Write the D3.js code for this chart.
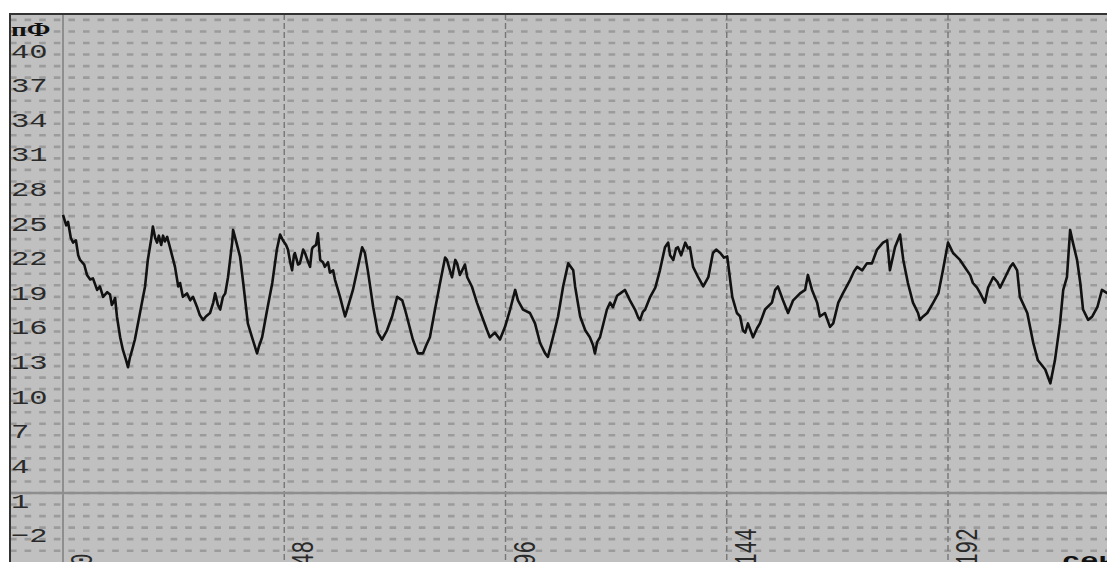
<!DOCTYPE html>
<html>
<head>
<meta charset="utf-8">
<script src="https://cdn.jsdelivr.net/npm/d3@7.9.0/dist/d3.min.js"></script>
<style>
  body { margin: 0; background: #fff; }
  svg { display: block; }
</style>
</head>
<body>
<svg id="chart" width="1107" height="562"></svg>
<script>
// seconds and picofarads
const times = [0,0.7,1.1,1.7,2.2,2.8,3.3,3.7,4.6,5.2,5.9,6.5,7.4,8.0,8.7,9.6,10.2,10.6,10.9,11.3,11.7,12.4,13.0,13.7,14.1,14.5,15.0,15.6,16.7,17.8,18.4,19.1,19.3,19.5,20.0,20.4,20.8,21.3,21.7,22.1,22.6,23.2,24.3,25.0,25.4,26.0,26.9,27.6,28.2,29.1,29.7,30.4,31.0,31.9,32.6,33.0,33.6,34.1,34.7,35.2,35.8,36.7,36.9,37.5,38.4,39.1,40.1,41.0,42.1,42.5,43.2,44.3,45.4,46.4,47.1,47.7,48.4,48.8,49.3,49.7,50.1,50.3,51.0,51.4,52.1,52.5,53.2,53.6,54.0,54.2,54.9,55.3,55.8,56.4,56.8,57.5,57.9,58.6,59.0,60.1,60.8,61.2,61.8,62.9,64.0,64.9,65.5,66.2,67.3,68.3,69.2,70.3,71.4,72.5,73.6,74.2,74.6,75.9,77.0,78.1,78.8,79.6,80.7,81.8,82.5,82.9,83.3,84.0,84.4,85.1,85.5,86.1,86.6,87.2,87.7,88.7,89.8,90.9,92.0,92.6,93.7,94.8,95.9,97.0,98.1,98.7,99.8,101.3,102.4,103.5,104.6,105.2,106.3,107.4,108.5,109.6,110.7,111.1,112.2,113.3,114.3,115.0,115.4,115.9,116.5,118.0,118.7,119.3,120.2,120.9,121.9,123.0,124.1,124.8,125.2,125.8,126.3,127.4,128.5,129.5,130.6,131.3,131.7,132.4,133.0,133.4,134.1,135.0,135.6,136.0,136.7,137.8,138.9,140.0,141.0,141.7,142.6,143.4,144.1,145.2,146.2,146.9,147.5,148.0,148.6,149.7,150.6,151.2,152.3,153.8,154.5,155.1,156.2,157.3,158.4,159.9,161.0,161.6,162.5,163.6,164.2,165.3,166.4,167.1,168.2,169.2,170.8,171.6,172.3,173.4,174.4,175.5,176.6,177.9,178.8,179.4,180.5,181.6,182.3,183.3,184.4,185.5,185.9,186.6,187.5,188.8,189.9,190.9,192.0,193.1,194.6,196.1,196.8,197.4,198.3,199.0,200.0,200.7,201.8,202.7,203.3,204.4,205.5,206.1,207.0,207.6,209.2,210.5,211.5,213.1,214.2,215.2,216.3,217.0,217.8,218.5,219.1,220.0,220.7,221.3,222.4,223.3,224.4,225.4,226.6];
const values = [25.1,24.2,24.5,23.1,22.7,22.9,21.6,21.2,20.8,19.9,19.5,19.6,18.6,18.9,18.0,18.4,18.2,17.3,17.5,17.9,16.3,14.5,13.4,12.5,11.9,12.7,13.4,14.3,16.6,18.9,21.2,22.9,23.5,24.1,23.1,22.7,23.3,22.5,23.3,22.8,23.2,22.3,20.6,18.9,19.2,18.0,18.3,17.7,18.0,17.1,16.4,16.0,16.3,16.6,17.5,18.3,17.3,16.9,18.0,18.3,19.7,22.7,23.8,22.9,21.5,19.2,15.7,14.5,13.1,13.7,14.5,16.9,19.2,22.1,23.4,22.9,22.5,22.1,21.0,20.3,21.6,21.8,20.8,20.9,22.1,21.8,21.0,20.6,22.1,22.3,22.5,23.5,21.2,21.0,20.6,21.0,20.1,20.3,19.5,18.0,16.9,16.3,17.1,18.6,20.6,22.3,21.8,20.1,17.1,14.9,14.3,15.1,16.3,18.0,17.7,16.9,16.3,14.3,13.1,13.1,13.8,14.5,16.9,19.2,20.6,21.4,21.2,20.2,19.7,21.2,20.9,19.9,20.3,20.8,19.7,18.9,17.5,16.3,15.1,14.5,14.9,14.3,15.4,16.9,18.6,17.7,16.9,16.6,15.7,14.0,13.1,12.8,14.5,16.3,18.9,20.9,20.3,18.9,16.3,15.1,14.5,13.8,13.1,14.1,14.5,16.9,17.5,17.1,18.1,18.3,18.6,17.7,16.9,16.2,16.0,16.7,16.9,18.0,18.8,20.3,22.3,22.7,21.6,21.2,22.2,22.3,21.6,22.7,22.2,22.3,20.6,19.7,18.9,19.7,21.8,22.1,21.8,21.4,21.5,18.0,16.6,16.3,15.1,14.9,15.7,14.5,15.3,15.7,16.9,17.5,18.6,18.9,17.7,16.6,17.7,18.3,18.6,19.9,18.6,17.5,16.3,16.6,15.4,15.7,17.5,18.3,19.5,20.2,20.6,20.3,20.9,20.9,22.1,22.7,22.9,20.3,22.3,23.4,21.2,19.2,17.5,16.6,16.0,16.3,16.6,17.5,18.3,20.3,22.7,21.8,21.2,20.3,19.9,19.2,18.8,18.3,17.5,18.8,19.7,19.3,18.8,19.7,20.6,20.9,20.3,18.0,16.6,14.0,12.5,11.7,10.5,12.5,15.7,18.6,19.7,23.8,22.7,21.2,19.2,16.9,16.0,16.3,17.1,18.6,18.3];

const yTicks = [40, 37, 34, 31, 28, 25, 22, 19, 16, 13, 10, 7, 4, 1, -2];
const xTicks = [0, 48, 96, 144, 192];
const yUnit = "пФ";
const xUnit = "сек";

const W = 1107, H = 562;
const padLeft = 10, padTop = 14;

const x = d3.scaleLinear().domain([0, 192]).range([63, 948]);
const y = d3.scaleLinear().domain([1, 40]).range([493, 43]);

const svg = d3.select("#chart");

// plot background
svg.append("rect")
  .attr("x", padLeft).attr("y", padTop)
  .attr("width", W - padLeft).attr("height", H - padTop)
  .attr("fill", "#c0c0c0");

// dotted rows, one per unit
const rows = d3.range(-5, 43).filter(v => y(v) > padTop + 2 && y(v) < H);
svg.append("g").selectAll("line").data(rows).join("line")
  .attr("x1", padLeft).attr("x2", W)
  .attr("y1", d => y(d)).attr("y2", d => y(d))
  .attr("stroke", "#9b9b9b")
  .attr("stroke-width", 2.6)
  .attr("stroke-dasharray", "6.6 8");

// dashed verticals at the time ticks
svg.append("g").selectAll("line").data(xTicks.filter(d => d > 0)).join("line")
  .attr("x1", d => x(d)).attr("x2", d => x(d))
  .attr("y1", padTop).attr("y2", H)
  .attr("stroke", "#767676")
  .attr("stroke-width", 1.4)
  .attr("stroke-dasharray", "6 3");

// solid zero axes
svg.append("line")
  .attr("x1", x(0)).attr("x2", x(0)).attr("y1", padTop).attr("y2", H)
  .attr("stroke", "#8e8e8e").attr("stroke-width", 2);
svg.append("line")
  .attr("x1", padLeft).attr("x2", W).attr("y1", y(1)).attr("y2", y(1))
  .attr("stroke", "#8e8e8e").attr("stroke-width", 2.5);

// trace
const pts = times.map((t, i) => [t, values[i]]);
svg.append("path")
  .datum(pts)
  .attr("fill", "none")
  .attr("stroke", "#111")
  .attr("stroke-width", 2.6)
  .attr("stroke-linejoin", "round")
  .attr("d", d3.line().x(d => x(d[0])).y(d => y(d[1])));

// y labels (screen is stretched sideways)
const font = "'Liberation Mono', monospace";
svg.append("g").selectAll("text").data(yTicks).join("text")
  .attr("transform", d => `translate(11,${y(d) + 14.5}) scale(1.45,1)`)
  .attr("font-family", font)
  .attr("font-size", 21)
  .attr("fill", "#2a2a2a")
  .text(d => d < 0 ? "−" + Math.abs(d) : d);

svg.append("text")
  .attr("transform", "translate(11,36) scale(1.45,1)")
  .attr("font-family", "'Liberation Serif', serif")
  .attr("font-weight", "bold")
  .attr("font-size", 19)
  .attr("fill", "#111")
  .text(yUnit);

// x labels, rotated
svg.append("g").selectAll("text").data(xTicks).join("text")
  .attr("transform", d => `translate(${x(d) + 29},566) scale(1.45,1) rotate(-90)`)
  .attr("font-family", font)
  .attr("font-size", 21)
  .attr("fill", "#2a2a2a")
  .text(d => d);

svg.append("text")
  .attr("transform", "translate(1062,567) scale(1.45,1)")
  .attr("font-family", font)
  .attr("font-weight", "bold")
  .attr("font-size", 21)
  .attr("fill", "#111")
  .text(xUnit);

// frame
svg.append("line").attr("x1", padLeft - 1).attr("x2", W).attr("y1", padTop).attr("y2", padTop)
  .attr("stroke", "#333").attr("stroke-width", 2);
svg.append("line").attr("x1", padLeft).attr("x2", padLeft).attr("y1", padTop).attr("y2", H)
  .attr("stroke", "#333").attr("stroke-width", 2);
</script>
</body>
</html>
